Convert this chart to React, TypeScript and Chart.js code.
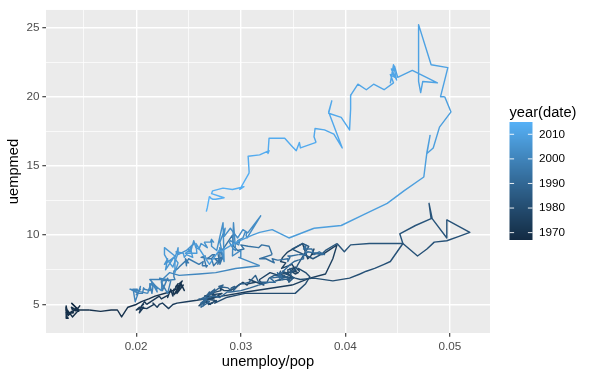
import { useEffect, useRef } from "react";
import { Chart, registerables } from "chart.js";

Chart.register(...registerables);

// ---- data: economics (monthly), one inner list per calendar year ----
const years = [
  1967, 1968, 1969, 1970, 1971, 1972, 1973, 1974, 1975, 1976, 1977, 1978,
  1979, 1980, 1981, 1982, 1983, 1984, 1985, 1986, 1987, 1988, 1989, 1990,
  1991, 1992, 1993, 1994, 1995, 1996, 1997, 1998, 1999, 2000, 2001, 2002,
  2003, 2004, 2005, 2006, 2007, 2008, 2009, 2010, 2011, 2012, 2013, 2014, 2015,
];

const unemployPop: number[][] = [
  [0.0142, 0.0142, 0.0143, 0.0146, 0.0144, 0.0142],
  [0.0138, 0.0145, 0.0139, 0.0134, 0.0135, 0.014, 0.0138, 0.0135, 0.0133, 0.0133, 0.0134, 0.0133],
  [0.0134, 0.0133, 0.0133, 0.0135, 0.0133, 0.0137, 0.0139, 0.0138, 0.0143, 0.0145, 0.0138, 0.0139],
  [0.0155, 0.0166, 0.0176, 0.0182, 0.0186, 0.0192, 0.02, 0.0205, 0.0212, 0.0218, 0.0232, 0.0241],
  [0.024, 0.0238, 0.0243, 0.0241, 0.0244, 0.0236, 0.0243, 0.0245, 0.0239, 0.0243, 0.0246, 0.0244],
  [0.0241, 0.0238, 0.024, 0.0236, 0.0236, 0.0235, 0.0233, 0.0232, 0.023, 0.0231, 0.0224, 0.0222],
  [0.021, 0.0208, 0.0205, 0.0207, 0.0205, 0.0203, 0.0207, 0.0204, 0.0206, 0.02, 0.0203, 0.021],
  [0.0217, 0.0216, 0.022, 0.0222, 0.0225, 0.0231, 0.0235, 0.0239, 0.0248, 0.0258, 0.0282, 0.0305],
  [0.0349, 0.0366, 0.0381, 0.0388, 0.0392, 0.0378, 0.0372, 0.0368, 0.037, 0.0367, 0.0364, 0.0359],
  [0.0345, 0.034, 0.0338, 0.0343, 0.0339, 0.0349, 0.0353, 0.035, 0.0348, 0.0352, 0.0355, 0.035],
  [0.0335, 0.034, 0.0328, 0.0318, 0.0318, 0.0322, 0.0308, 0.0314, 0.0307, 0.0306, 0.0302, 0.029],
  [0.0284, 0.028, 0.0281, 0.0271, 0.0276, 0.0273, 0.0282, 0.0273, 0.0275, 0.0267, 0.0272, 0.0274],
  [0.0265, 0.027, 0.0266, 0.0264, 0.026, 0.0263, 0.0265, 0.0271, 0.0265, 0.0275, 0.0273, 0.0269],
  [0.0277, 0.0275, 0.0286, 0.0304, 0.0352, 0.0362, 0.0366, 0.0362, 0.0355, 0.0356, 0.0352, 0.0345],
  [0.0345, 0.0346, 0.0348, 0.034, 0.035, 0.0333, 0.034, 0.0352, 0.0357, 0.037, 0.0388, 0.0404],
  [0.0414, 0.042, 0.0428, 0.0437, 0.0443, 0.0455, 0.0469, 0.0478, 0.0485, 0.0497, 0.0508, 0.0519],
  [0.0497, 0.0497, 0.0483, 0.048, 0.0482, 0.0467, 0.0452, 0.0455, 0.044, 0.0423, 0.0405, 0.0399],
  [0.0392, 0.0381, 0.0377, 0.0379, 0.0369, 0.0349, 0.0359, 0.0365, 0.0354, 0.0353, 0.035, 0.0352],
  [0.0349, 0.0347, 0.0348, 0.0347, 0.035, 0.0346, 0.0345, 0.034, 0.034, 0.0342, 0.034, 0.0338],
  [0.0333, 0.035, 0.0344, 0.0346, 0.0347, 0.0345, 0.034, 0.0336, 0.0338, 0.0336, 0.0336, 0.0332],
  [0.0327, 0.0325, 0.0317, 0.0314, 0.0308, 0.0303, 0.03, 0.0298, 0.0293, 0.0294, 0.0291, 0.029],
  [0.0288, 0.0279, 0.0283, 0.0274, 0.0274, 0.027, 0.0275, 0.0275, 0.027, 0.0267, 0.0269, 0.027],
  [0.0267, 0.0262, 0.026, 0.0265, 0.0263, 0.0266, 0.0262, 0.0264, 0.0264, 0.0264, 0.0267, 0.0268],
  [0.0265, 0.0262, 0.0262, 0.027, 0.0265, 0.0264, 0.0274, 0.028, 0.0287, 0.029, 0.03, 0.0309],
  [0.0317, 0.0327, 0.0333, 0.0328, 0.0338, 0.0337, 0.0335, 0.034, 0.0338, 0.0342, 0.0346, 0.0351],
  [0.0355, 0.036, 0.036, 0.0364, 0.0372, 0.038, 0.0375, 0.037, 0.0368, 0.036, 0.0362, 0.0362],
  [0.0355, 0.0348, 0.0345, 0.0347, 0.0345, 0.0345, 0.0336, 0.0335, 0.033, 0.0332, 0.0324, 0.0318],
  [0.033, 0.0327, 0.032, 0.0317, 0.0307, 0.03, 0.0303, 0.0297, 0.0293, 0.0292, 0.0283, 0.0278],
  [0.028, 0.0278, 0.0275, 0.0283, 0.028, 0.028, 0.0283, 0.028, 0.0278, 0.0279, 0.0278, 0.028],
  [0.028, 0.0274, 0.0272, 0.0275, 0.0273, 0.0268, 0.0272, 0.0262, 0.0266, 0.0265, 0.0267, 0.0268],
  [0.0263, 0.0264, 0.026, 0.025, 0.0248, 0.025, 0.0247, 0.0248, 0.0248, 0.0241, 0.024, 0.0238],
  [0.0236, 0.0236, 0.0237, 0.0224, 0.0225, 0.023, 0.0231, 0.023, 0.0233, 0.023, 0.0224, 0.0225],
  [0.0222, 0.0229, 0.0213, 0.022, 0.0214, 0.0216, 0.0215, 0.0213, 0.0213, 0.0208, 0.0207, 0.0206],
  [0.0201, 0.0204, 0.0203, 0.0194, 0.0202, 0.02, 0.0203, 0.0204, 0.0199, 0.0197, 0.0201, 0.0199],
  [0.0211, 0.0212, 0.0215, 0.022, 0.0219, 0.0224, 0.0225, 0.0232, 0.0241, 0.026, 0.0276, 0.0295],
  [0.0318, 0.0298, 0.03, 0.03, 0.0292, 0.0293, 0.0295, 0.0293, 0.0289, 0.029, 0.0298, 0.0299],
  [0.0296, 0.0297, 0.0302, 0.0304, 0.0307, 0.0319, 0.0306, 0.0305, 0.0306, 0.0302, 0.0297, 0.029],
  [0.0284, 0.0284, 0.0285, 0.028, 0.0284, 0.0283, 0.0277, 0.0272, 0.0272, 0.0274, 0.0272, 0.0271],
  [0.0265, 0.0268, 0.0262, 0.026, 0.0257, 0.0255, 0.0252, 0.025, 0.0252, 0.025, 0.0255, 0.0248],
  [0.024, 0.024, 0.0239, 0.0237, 0.0237, 0.0237, 0.024, 0.0236, 0.0229, 0.0227, 0.023, 0.0228],
  [0.0235, 0.0237, 0.0227, 0.0227, 0.023, 0.0235, 0.024, 0.0238, 0.0245, 0.0246, 0.0248, 0.0254],
  [0.0252, 0.0247, 0.0258, 0.0257, 0.027, 0.028, 0.028, 0.0296, 0.0311, 0.0318, 0.033, 0.0346],
  [0.037, 0.0396, 0.0418, 0.044, 0.0456, 0.0475, 0.0478, 0.0481, 0.0478, 0.0484, 0.049, 0.0501],
  [0.0495, 0.0491, 0.0498, 0.0482, 0.047, 0.047, 0.0472, 0.0474, 0.0488, 0.0464, 0.045, 0.0447],
  [0.0445, 0.0443, 0.0446, 0.0449, 0.0444, 0.0447, 0.0443, 0.0446, 0.0437, 0.0427, 0.042, 0.0412],
  [0.0405, 0.0405, 0.0404, 0.0396, 0.0384, 0.0387, 0.0384, 0.0397, 0.0389, 0.038, 0.0371, 0.037],
  [0.0372, 0.0357, 0.0356, 0.0353, 0.0348, 0.0342, 0.0335, 0.0327, 0.0326, 0.0327, 0.0318, 0.0307],
  [0.0308, 0.0299, 0.0303, 0.0292, 0.0283, 0.0273, 0.0272, 0.0284, 0.0276, 0.0273, 0.0271, 0.027],
  [0.027, 0.0269, 0.0268, 0.0267],
];

const uempmed: number[][] = [
  [4.5, 4.7, 4.6, 4.9, 4.7, 4.8],
  [5.1, 4.6, 4.1, 4.6, 4.4, 4.4, 4.5, 4.2, 4.6, 4.8, 4.4, 4.4],
  [4.4, 4.9, 4.0, 4.0, 4.2, 4.4, 4.4, 4.4, 4.7, 4.5, 4.8, 4.6],
  [4.6, 4.5, 4.6, 4.6, 4.1, 4.8, 5.0, 5.2, 5.4, 5.6, 5.9, 6.2],
  [6.2, 6.3, 6.4, 6.5, 6.7, 5.7, 6.2, 6.4, 5.8, 6.5, 6.0, 6.3],
  [6.4, 6.3, 6.5, 6.0, 6.1, 5.6, 6.1, 5.9, 5.5, 5.7, 5.4, 5.6],
  [5.0, 5.2, 4.9, 5.0, 4.9, 4.4, 4.8, 4.8, 4.8, 4.6, 4.8, 4.7],
  [5.0, 5.1, 4.8, 5.0, 5.1, 4.7, 5.0, 5.1, 5.2, 5.3, 5.6, 5.9],
  [6.4, 6.9, 7.2, 8.3, 9.3, 8.6, 8.7, 8.6, 9.0, 8.5, 8.3, 9.4],
  [8.8, 8.4, 8.1, 8.0, 7.6, 7.9, 7.4, 7.6, 7.4, 7.2, 7.3, 7.4],
  [7.1, 7.0, 7.3, 6.8, 6.7, 6.4, 6.8, 6.6, 6.5, 6.4, 6.6, 6.0],
  [6.0, 6.2, 6.0, 5.8, 5.6, 5.4, 5.8, 5.7, 5.6, 5.6, 5.4, 5.8],
  [5.6, 5.4, 5.3, 5.2, 4.9, 5.1, 5.2, 5.0, 5.4, 5.3, 5.1, 5.0],
  [5.3, 5.1, 5.5, 5.8, 5.8, 6.5, 7.0, 7.3, 7.6, 7.4, 7.7, 7.5],
  [7.4, 7.1, 7.1, 7.4, 6.9, 7.1, 7.3, 6.9, 6.8, 6.9, 6.7, 6.9],
  [7.2, 7.4, 7.6, 7.9, 8.1, 9.4, 8.5, 9.0, 9.5, 9.6, 9.9, 10.2],
  [11.1, 9.8, 11.2, 12.3, 11.2, 10.7, 10.1, 9.4, 9.4, 9.4, 9.3, 8.8],
  [9.4, 8.9, 8.6, 8.7, 8.3, 9.0, 9.4, 9.2, 7.8, 7.6, 7.4, 7.5],
  [7.3, 7.6, 7.2, 7.2, 6.9, 6.6, 6.9, 7.1, 6.9, 7.1, 7.0, 6.8],
  [6.7, 6.9, 6.8, 6.7, 6.8, 7.0, 6.9, 7.1, 7.4, 7.0, 7.1, 7.1],
  [6.9, 6.6, 6.6, 7.1, 6.6, 6.5, 6.5, 6.4, 6.0, 6.3, 6.2, 6.0],
  [6.2, 6.3, 6.4, 5.9, 5.9, 5.8, 6.1, 5.9, 5.7, 5.6, 5.7, 5.9],
  [5.6, 5.4, 5.4, 5.4, 5.4, 5.3, 5.1, 5.0, 5.2, 4.9, 5.4, 5.5],
  [5.3, 5.1, 4.8, 5.2, 5.4, 5.4, 5.6, 5.5, 5.9, 5.9, 6.0, 6.2],
  [6.4, 6.6, 6.6, 6.9, 7.0, 6.9, 7.3, 6.8, 7.2, 7.5, 7.8, 8.1],
  [8.2, 8.3, 8.5, 8.8, 8.7, 8.6, 8.8, 8.6, 9.0, 9.0, 9.3, 8.6],
  [8.6, 8.5, 8.5, 8.4, 8.1, 8.3, 8.2, 8.2, 8.3, 8.0, 8.3, 8.3],
  [8.6, 9.2, 9.3, 9.1, 9.2, 9.3, 9.0, 8.9, 9.2, 10.0, 9.0, 8.7],
  [8.0, 8.1, 8.3, 8.3, 9.1, 7.9, 8.5, 8.3, 7.9, 8.2, 8.0, 8.3],
  [8.3, 7.8, 8.3, 8.6, 8.6, 8.3, 8.3, 8.4, 8.5, 8.3, 7.7, 7.8],
  [7.8, 8.1, 7.9, 8.3, 8.0, 8.0, 8.3, 7.8, 8.2, 7.7, 7.6, 7.5],
  [7.4, 7.0, 6.8, 6.7, 6.0, 6.9, 6.7, 6.8, 6.7, 5.8, 6.6, 6.8],
  [6.9, 6.8, 6.8, 6.2, 6.5, 6.3, 5.8, 6.5, 6.0, 6.1, 6.2, 5.8],
  [5.8, 6.1, 6.0, 6.1, 5.8, 5.7, 6.0, 6.3, 5.2, 6.1, 6.1, 6.0],
  [5.8, 6.1, 6.6, 5.9, 6.3, 6.0, 6.8, 7.3, 7.1, 7.2, 7.3, 7.6],
  [7.8, 8.4, 8.4, 8.9, 8.5, 10.9, 8.9, 9.0, 9.5, 9.6, 9.3, 9.6],
  [9.4, 9.6, 9.8, 10.2, 10.2, 11.4, 9.8, 10.0, 10.2, 10.4, 9.8, 10.5],
  [9.9, 10.0, 10.5, 9.5, 8.1, 10.9, 8.9, 9.2, 9.6, 9.5, 9.7, 9.5],
  [9.5, 9.1, 9.4, 9.0, 9.1, 9.6, 8.8, 9.0, 8.8, 8.8, 9.4, 8.9],
  [8.6, 9.1, 8.8, 8.4, 8.5, 7.3, 8.0, 8.4, 8.0, 7.9, 8.3, 7.5],
  [8.3, 8.5, 9.1, 8.6, 8.2, 7.7, 8.7, 8.8, 8.7, 8.4, 8.6, 8.4],
  [9.0, 8.7, 8.7, 9.4, 7.9, 9.0, 8.8, 9.5, 10.0, 10.2, 10.4, 9.8],
  [10.5, 10.7, 11.5, 12.3, 13.2, 14.2, 16.0, 17.2, 15.9, 16.3, 17.8, 18.9],
  [20.0, 20.0, 22.1, 22.3, 25.2, 21.1, 20.3, 21.1, 21.0, 21.9, 21.4, 22.2],
  [21.7, 21.0, 22.3, 21.2, 22.0, 21.4, 21.6, 21.0, 20.5, 20.9, 20.5, 20.9],
  [20.1, 19.1, 17.6, 18.5, 18.8, 19.7, 18.9, 16.3, 17.3, 17.6, 17.7, 17.1],
  [16.7, 16.3, 16.7, 16.1, 16.5, 17.0, 17.0, 17.0, 15.9, 16.1, 15.8, 15.7],
  [14.5, 13.3, 13.5, 13.3, 13.4, 13.2, 13.0, 12.7, 12.6, 12.6, 12.7, 12.8],
  [12.8, 12.4, 12.0, 11.7],
];

const xMajorTicks = [0.02, 0.03, 0.04, 0.05];
const xMinorTicks = [0.015, 0.025, 0.035, 0.045];
const yMajorTicks = [5, 10, 15, 20, 25];
const yMinorTicks = [7.5, 12.5, 17.5, 22.5];
const legendBreaks = [1970, 1980, 1990, 2000, 2010];
const lowColour = "#132B43";
const highColour = "#56B1F7";

const FONT = "'Liberation Sans', Arial, Helvetica, sans-serif";

// ---- colour helpers (Lab interpolation like ggplot's seq_gradient_pal) ----
function hexToRgb(h: string): number[] {
  return [parseInt(h.slice(1, 3), 16), parseInt(h.slice(3, 5), 16), parseInt(h.slice(5, 7), 16)];
}
const XN = 0.95047, YN = 1.0, ZN = 1.08883;
function toLin(c: number) {
  c /= 255;
  return c <= 0.04045 ? c / 12.92 : Math.pow((c + 0.055) / 1.055, 2.4);
}
function fromLin(c: number) {
  const v = c <= 0.0031308 ? 12.92 * c : 1.055 * Math.pow(c, 1 / 2.4) - 0.055;
  return Math.round(Math.max(0, Math.min(1, v)) * 255);
}
function rgbToLab(rgb: number[]): number[] {
  const R = toLin(rgb[0]), G = toLin(rgb[1]), B = toLin(rgb[2]);
  const X = 0.4124564 * R + 0.3575761 * G + 0.1804375 * B;
  const Y = 0.2126729 * R + 0.7151522 * G + 0.072175 * B;
  const Z = 0.0193339 * R + 0.119192 * G + 0.9503041 * B;
  const f = (t: number) => (t > 0.008856 ? Math.cbrt(t) : 7.787 * t + 16 / 116);
  const fx = f(X / XN), fy = f(Y / YN), fz = f(Z / ZN);
  return [116 * fy - 16, 500 * (fx - fy), 200 * (fy - fz)];
}
function labToHex(lab: number[]): string {
  const fy = (lab[0] + 16) / 116;
  const fx = fy + lab[1] / 500;
  const fz = fy - lab[2] / 200;
  const inv = (t: number) => (t * t * t > 0.008856 ? t * t * t : (t - 16 / 116) / 7.787);
  const X = XN * inv(fx), Y = YN * inv(fy), Z = ZN * inv(fz);
  const R = 3.2404542 * X - 1.5371385 * Y - 0.4985314 * Z;
  const G = -0.969266 * X + 1.8760108 * Y + 0.041556 * Z;
  const B = 0.0556434 * X - 0.2040259 * Y + 1.0572252 * Z;
  return "rgb(" + fromLin(R) + "," + fromLin(G) + "," + fromLin(B) + ")";
}
const LAB_LO = rgbToLab(hexToRgb(lowColour));
const LAB_HI = rgbToLab(hexToRgb(highColour));
const YEAR_MIN = Math.min(...years);
const YEAR_MAX = Math.max(...years);
function colourFor(year: number): string {
  const t = Math.max(0, Math.min(1, (year - YEAR_MIN) / (YEAR_MAX - YEAR_MIN)));
  return labToHex([0, 1, 2].map((i) => LAB_LO[i] + (LAB_HI[i] - LAB_LO[i]) * t));
}

export default function App() {
  const ref = useRef<HTMLCanvasElement | null>(null);

  useEffect(() => {
    const canvas = ref.current;
    if (!canvas) return;

    const points: { x: number; y: number }[] = [];
    const pointYears: number[] = [];
    years.forEach((yr, i) => {
      unemployPop[i].forEach((v, j) => {
        points.push({ x: v, y: uempmed[i][j] });
        pointYears.push(yr);
      });
    });
    const xs = points.map((p) => p.x);
    const ys = points.map((p) => p.y);
    const xLo = Math.min(...xs), xHi = Math.max(...xs);
    const yLo = Math.min(...ys), yHi = Math.max(...ys);
    const xPad = (xHi - xLo) * 0.05, yPad = (yHi - yLo) * 0.05;

    const xTickList = [...xMinorTicks, ...xMajorTicks].sort((a, b) => a - b);
    const yTickList = [...yMinorTicks, ...yMajorTicks].sort((a, b) => a - b);
    const isMajorX = (v: number) => xMajorTicks.some((t) => Math.abs(t - v) < 1e-9);
    const isMajorY = (v: number) => yMajorTicks.some((t) => Math.abs(t - v) < 1e-9);

    const panelBg = {
      id: "panelBg",
      beforeDraw(chart: any) {
        const { ctx, chartArea: a } = chart;
        ctx.save();
        ctx.fillStyle = "#EBEBEB";
        ctx.fillRect(a.left, a.top, a.right - a.left, a.bottom - a.top);
        ctx.restore();
      },
    };

    const legendPlugin = {
      id: "colourbar",
      afterDraw(chart: any) {
        const ctx = chart.ctx;
        ctx.save();
        ctx.textAlign = "left";
        ctx.textBaseline = "middle";
        ctx.fillStyle = "#000000";
        ctx.font = "14.7px " + FONT;
        ctx.fillText("year(date)", 509.5, 113);
        const bx = 509.5, by = 122, bw = 23, bh = 118;
        for (let i = 0; i < bh; i++) {
          const v = YEAR_MAX - ((i + 0.5) / bh) * (YEAR_MAX - YEAR_MIN);
          ctx.fillStyle = colourFor(v);
          ctx.fillRect(bx, by + i, bw, 1);
        }
        ctx.font = "11.7px " + FONT;
        legendBreaks.forEach((b) => {
          const py = by + ((YEAR_MAX - b) / (YEAR_MAX - YEAR_MIN)) * bh;
          ctx.strokeStyle = "rgba(255,255,255,0.9)";
          ctx.lineWidth = 1;
          ctx.beginPath();
          ctx.moveTo(bx, py);
          ctx.lineTo(bx + bw / 5, py);
          ctx.moveTo(bx + bw - bw / 5, py);
          ctx.lineTo(bx + bw, py);
          ctx.stroke();
          ctx.fillStyle = "#000000";
          ctx.fillText(String(b), 539, py);
        });
        ctx.restore();
      },
    };

    const chart = new Chart(canvas, {
      type: "line",
      data: {
        datasets: [
          {
            data: points,
            borderWidth: 1.42,
            pointRadius: 0,
            pointHoverRadius: 0,
            tension: 0,
            fill: false,
            borderJoinStyle: "round",
            borderCapStyle: "butt",
            borderColor: colourFor(pointYears[0]),
            segment: {
              borderColor: (ctx: any) => colourFor(pointYears[ctx.p0DataIndex]),
            },
          } as any,
        ],
      },
      options: {
        animation: false,
        responsive: false,
        devicePixelRatio: 1,
        events: [],
        layout: { padding: { top: 7, right: 110, left: 0, bottom: 0 } },
        plugins: { legend: { display: false }, tooltip: { enabled: false } },
        scales: {
          x: {
            type: "linear",
            min: xLo - xPad,
            max: xHi + xPad,
            afterBuildTicks: (s: any) => {
              s.ticks = xTickList.map((v) => ({ value: v }));
            },
            afterFit: (s: any) => {
              s.height = 42;
            },
            border: { display: false },
            grid: {
              color: "#FFFFFF",
              lineWidth: (c: any) => (c.tick && isMajorX(c.tick.value) ? 1.42 : 0.71),
              tickColor: (c: any) => (c.tick && isMajorX(c.tick.value) ? "#333333" : "rgba(0,0,0,0)"),
              tickWidth: 1.1,
              tickLength: 3.67,
            },
            ticks: {
              color: "#4D4D4D",
              font: { family: FONT, size: 11.7 },
              padding: 2.93,
              maxRotation: 0,
              autoSkip: false,
              callback: (v: any) => (isMajorX(Number(v)) ? Number(v).toFixed(2) : ""),
            },
            title: {
              display: true,
              text: "unemploy/pop",
              color: "#000000",
              font: { family: FONT, size: 14.7 },
              padding: { top: 0, bottom: 4.2 },
            },
          },
          y: {
            type: "linear",
            min: yLo - yPad,
            max: yHi + yPad,
            afterBuildTicks: (s: any) => {
              s.ticks = yTickList.map((v) => ({ value: v }));
            },
            afterFit: (s: any) => {
              s.width = 46;
            },
            border: { display: false },
            grid: {
              color: "#FFFFFF",
              lineWidth: (c: any) => (c.tick && isMajorY(c.tick.value) ? 1.42 : 0.71),
              tickColor: (c: any) => (c.tick && isMajorY(c.tick.value) ? "#333333" : "rgba(0,0,0,0)"),
              tickWidth: 1.1,
              tickLength: 3.67,
            },
            ticks: {
              color: "#4D4D4D",
              font: { family: FONT, size: 11.7 },
              padding: 2.93,
              autoSkip: false,
              callback: (v: any) => (isMajorY(Number(v)) ? String(Number(v)) : ""),
            },
            title: {
              display: true,
              text: "uempmed",
              color: "#000000",
              font: { family: FONT, size: 14.7 },
              padding: { top: 5.5, bottom: 0 },
            },
          },
        },
      },
      plugins: [panelBg, legendPlugin],
    } as any);

    return () => chart.destroy();
  }, []);

  return (
    <div style={{ position: "absolute", left: 0, top: 0, width: 600, height: 375, background: "#FFFFFF" }}>
      <canvas ref={ref} width={600} height={375} style={{ display: "block", width: 600, height: 375 }} />
    </div>
  );
}
